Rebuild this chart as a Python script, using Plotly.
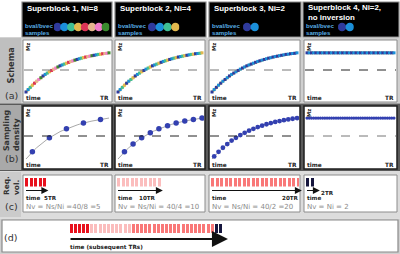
import plotly.graph_objects as go

W, H = 400, 254

# ---------------- data ----------------
sb_titles = ["Superblock 1, Ni=8", "Superblock 2, Ni=4", "Superblock 3, Ni=2",
             "Superblock 4, Ni=2,<br>no inversion"]
ni_values = [8, 4, 2, 2]
bval_colors = ["#2f3a9c", "#1b8fd9", "#3fbf94", "#e1b84e",
               "#de3557", "#e6b58d", "#f27dcb", "#3a8a2e"]
# Mz recovery over the 40 slices of one TR
mz_recovery = [-1.00, -0.89, -0.79, -0.69, -0.60, -0.51, -0.43, -0.35, -0.27, -0.20,
               -0.14, -0.08, -0.02, 0.04, 0.09, 0.14, 0.19, 0.23, 0.27, 0.31,
               0.35, 0.39, 0.42, 0.45, 0.48, 0.51, 0.54, 0.56, 0.59, 0.61,
               0.63, 0.65, 0.67, 0.69, 0.71, 0.72, 0.74, 0.75, 0.76, 0.78]
mz_no_inversion = 0.78
slice_idx = list(range(40))
sample_idx = [
    [3, 11, 19, 27, 35],
    [3, 7, 11, 15, 19, 23, 27, 31, 35, 39],
    [1, 3, 5, 7, 9, 11, 13, 15, 17, 19, 21, 23, 25, 27, 29, 31, 33, 35, 37, 39],
    slice_idx,
]
nv_values = [5, 10, 20, 2]
vol_colors = ["#e8111d", "#fbbdbd", "#f97878", "#16163e"]
tr_labels = ["5TR", "10TR", "20TR", "2TR"]
nv_texts = ["Nv = Ns/Ni =40/8 =5", "Nv = Ns/Ni = 40/4 =10",
            "Nv = Ns/Ni = 40/2 =20", "Nv = Ni = 2"]
row_labels = ["Schema", "Sampling<br>density", "Req.<br>vol."]
row_tags = ["(a)", "(b)", "(c)", "(d)"]

FONT = "DejaVu Sans"
HFONT = "Liberation Sans"

# ---------------- helpers ----------------
layout = dict(width=W, height=H, margin=dict(l=0, r=0, t=0, b=0),
              paper_bgcolor="white", plot_bgcolor="rgba(0,0,0,0)",
              showlegend=False, font=dict(family=FONT, color="#222"))
shapes, annotations, traces = [], [], []
count = [0]


def px(x):
    return x / W


def py(y):
    return 1 - y / H


def add_axes(x0, x1, y0, y1, xr, yr):
    count[0] += 1
    n = count[0]
    s = "" if n == 1 else str(n)
    layout["xaxis" + s] = dict(domain=[px(x0), px(x1)], range=xr, anchor="y" + s,
                               visible=False, fixedrange=True)
    layout["yaxis" + s] = dict(domain=[py(y1), py(y0)], range=yr, anchor="x" + s,
                               visible=False, fixedrange=True)
    return "x" + s, "y" + s


def rect(x0, y0, x1, y1, fill, line=None, lw=0, layer="below"):
    shapes.append(dict(type="rect", xref="paper", yref="paper",
                       x0=px(x0), x1=px(x1), y0=py(y1), y1=py(y0),
                       fillcolor=fill, line=dict(color=line or fill, width=lw),
                       layer=layer))


def text(x, y, t, size=7, color="#222", bold=False, xanchor="left", angle=0,
         yanchor="middle", family=FONT):
    if bold:
        t = "<b>" + t + "</b>"
    annotations.append(dict(x=px(x), y=py(y), xref="paper", yref="paper", text=t,
                            showarrow=False, xanchor=xanchor, yanchor=yanchor,
                            align="left", borderpad=0,
                            textangle=angle, font=dict(size=size, color=color, family=family)))


def arrow(xa, ya, x_end, ydom, size, width):
    annotations.append(dict(x=x_end, y=ydom, xref=xa, yref=ya + " domain",
                            ax=0, ay=ydom, axref=xa, ayref=ya + " domain", text="",
                            showarrow=True, arrowhead=2, arrowsize=size, arrowwidth=width,
                            arrowcolor="#111"))


# ---------------- backgrounds ----------------
rect(0, 37.5, 400, 103.5, "#cfcfcf")
rect(0, 37.5, 21, 103.5, "#bfbfbf")
rect(0, 103.5, 400, 171, "#5a5a5a")
rect(0, 105, 21, 170, "#a9a9a9")
rect(0, 171, 400, 218.5, "#dcdcdc")
rect(0, 172, 21, 217, "#cbcbcb")
rect(0, 218.5, 400, 254, "#d0d0d0")
rect(2, 220, 398, 252, "white", "#8a8a8a", 1.2)

panel_x = [(23, 112), (115, 205), (209, 300), (304, 397)]
header_x = [(22, 112), (115, 206), (209, 301), (303, 399)]
dot_pos = [(57.5, 6.9), (152, 7.8), (247, 7.8), (342, 7.8)]

# ---------------- header ----------------
for k in range(4):
    hx0, hx1 = header_x[k]
    rect(hx0, 2, hx1, 37, "black", "#8a8a8a", 1.2)
    if k == 3:
        text(hx0 + 4, 12.5, sb_titles[k], 7.9, "white", True, family=HFONT)
    else:
        text(hx0 + 4, 8.5, sb_titles[k], 7.9, "white", True, family=HFONT)
    text(hx0 + 2, 25, "bval/bvec", 6.1, "#59aee3", True, family=HFONT)
    text(hx0 + 2, 32.5, "samples", 6.1, "#59aee3", True, family=HFONT)
    n = ni_values[k]
    cx, sp = dot_pos[k]
    xa, ya = add_axes(cx - sp / 2, cx + (n - 0.5) * sp, 22, 32, [-0.5, n - 0.5], [-1, 1])
    traces.append(go.Scatter(x=list(range(n)), y=[0] * n, mode="markers",
                             marker=dict(size=8.5, color=bval_colors[:n], line=dict(width=0)),
                             xaxis=xa, yaxis=ya, hoverinfo="skip"))

# ---------------- rows (a) and (b) ----------------
rows = [dict(y0=40, y1=102, zero=70, ppu=22, border="#8c8c8c", bw=1),
        dict(y0=106, y1=169, zero=136, ppu=23, border="#1e1e1e", bw=1.5)]
for r, row in enumerate(rows):
    for k in range(4):
        x0, x1 = panel_x[k]
        y0, y1 = row["y0"], row["y1"]
        rect(x0, y0, x1, y1, "white")
        ppx = (x1 - x0 - 6) / 39.0
        xr = [-2 / ppx, 39 + 2 / ppx]
        yr = [-(y1 - row["zero"]) / row["ppu"], (row["zero"] - y0) / row["ppu"]]
        xa, ya = add_axes(x0 + 1, x1 - 1, y0, y1, xr, yr)
        ycurve = mz_recovery if k < 3 else [mz_no_inversion] * 40
        dash_col = "#777777" if (r == 0 and k < 3) or (r == 1 and k == 3) else "#222222"
        shapes.append(dict(type="line", xref=xa + " domain", yref=ya, x0=0, x1=1, y0=0, y1=0,
                           line=dict(color=dash_col, width=1, dash="dash"), layer="above"))
        if r == 0:
            traces.append(go.Scatter(x=slice_idx, y=ycurve, mode="lines",
                                     line=dict(color="#e3c063", width=2.6),
                                     xaxis=xa, yaxis=ya, hoverinfo="skip"))
            cols = [bval_colors[i % ni_values[k]] for i in slice_idx]
            traces.append(go.Scatter(x=slice_idx, y=ycurve, mode="markers",
                                     marker=dict(size=3, symbol="square", color=cols,
                                                 line=dict(width=0)),
                                     xaxis=xa, yaxis=ya, hoverinfo="skip"))
        else:
            if k < 3:
                traces.append(go.Scatter(x=slice_idx, y=ycurve, mode="lines",
                                         line=dict(color="#a8a8a8", width=1),
                                         xaxis=xa, yaxis=ya, hoverinfo="skip"))
            idx = sample_idx[k]
            msize = [5.5, 5.5, 4.8, 3.2][k]
            traces.append(go.Scatter(x=idx, y=[ycurve[i] for i in idx], mode="markers",
                                     marker=dict(size=msize, color="#3340b0",
                                                 line=dict(width=0)),
                                     xaxis=xa, yaxis=ya, hoverinfo="skip"))
        rect(x0, y0, x1, y1, "rgba(0,0,0,0)", row["border"], row["bw"], layer="above")
        text(x0 + 4.5, y0 + 6.5, "Mz", 5.4, "#222", True, xanchor="center", angle=-90)
        text(x0 + 1.5, y1 - 4, "time", 5.8, "#222", True)
        text(x1 - 2, y1 - 4.5, "TR", 5.8, "#222", True, xanchor="right")

# ---------------- row (c) ----------------
tr_label_pos = [(50, 197.5), (147, 197.5), (290, 197.5), (327, 193)]
arrow_extra = [0.3, 0.3, 0.3, 1.2]
pxtr = 4.5
for k in range(4):
    x0, x1 = panel_x[k]
    y0, y1 = 175, 212
    rect(x0, y0, x1, y1, "white", "#8c8c8c", 1)
    bx0 = x0 + 1.5
    xa, ya = add_axes(bx0, x1 - 1, 178, 186.5, [0, (x1 - 1 - bx0) / pxtr], [0, 1])
    n = nv_values[k]
    traces.append(go.Bar(x=[i + 0.5 for i in range(n)], y=[1] * n, width=0.75,
                         marker=dict(color=vol_colors[k], line=dict(width=0)),
                         xaxis=xa, yaxis=ya, hoverinfo="skip"))
    arrow(xa, ya, n + arrow_extra[k], (186.5 - 190.5) / 8.5, 1.4, 1)
    text(x0 + 1.5, 197.5, "time", 5.6, "#222", True)
    lx, ly = tr_label_pos[k]
    text(lx, ly, tr_labels[k], 5.6, "#222", True, xanchor="center")
    text(x0 + 1.5, 206.5, nv_texts[k], 7.0, "#8a8a8a")

# ---------------- row (d) ----------------
all_cols = []
for k in range(4):
    all_cols += [vol_colors[k]] * nv_values[k]
nd = len(all_cols)
pxd = 4.15
xa, ya = add_axes(69, 69 + (nd + 1.5) * pxd, 224, 233, [0, nd + 1.5], [0, 1])
traces.append(go.Bar(x=[i + 0.5 for i in range(nd)], y=[1] * nd, width=0.72,
                     marker=dict(color=all_cols, line=dict(width=0)),
                     xaxis=xa, yaxis=ya, hoverinfo="skip"))
arrow(xa, ya, nd + 1.3, (233 - 239) / 9.0, 1.6, 2)
text(69, 247.5, "time (subsequent TRs)", 5.7, "#222", True)

# ---------------- row labels ----------------
text(10.5, 66, row_labels[0], 8.2, "#333", True, xanchor="center", angle=-90)
text(11, 95, row_tags[0], 9.5, "#333", xanchor="center")
text(11, 131, row_labels[1], 7.8, "#333", True, xanchor="center", angle=-90)
text(11, 158, row_tags[1], 9.5, "#333", xanchor="center")
text(11, 186, row_labels[2], 7.4, "#333", True, xanchor="center", angle=-90)
text(11, 206, row_tags[2], 9.5, "#333", xanchor="center")
text(10, 237, row_tags[3], 9.5, "#333", xanchor="center")

layout["shapes"] = shapes
layout["annotations"] = annotations
layout["bargap"] = 0
fig = go.Figure(data=traces, layout=layout)
fig.write_html("out.html", config={"displayModeBar": False, "staticPlot": True},
               post_script="document.body.style.margin='0';document.body.style.overflow='hidden';")
